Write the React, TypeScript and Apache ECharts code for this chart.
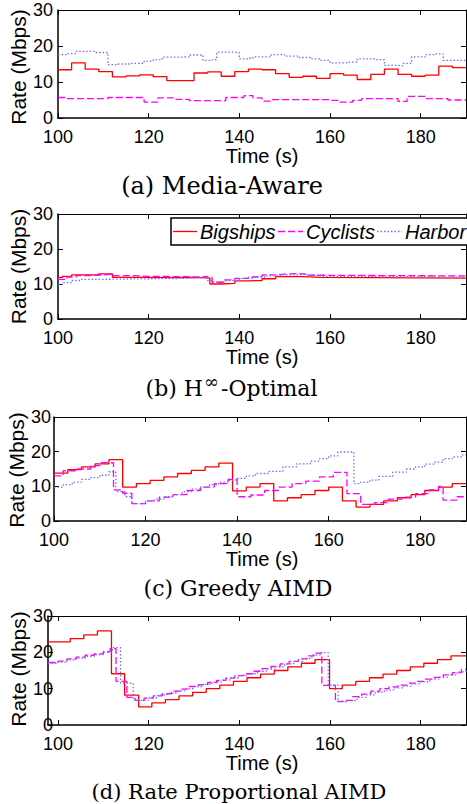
import React, { useEffect, useRef } from "react";
import * as echarts from "echarts";

type P = [number, number][];

// x tick labels and y range
const X_TICKS = [100, 120, 140, 160, 180];
const Y_MIN = 0;
const Y_MAX = 30;
const X_MAX = 190;
const X_MINS = [100, 100, 100, 97.8];

const CAPTIONS = ["(a) Media-Aware", "(b) H", "(c) Greedy AIMD", "(d) Rate Proportional AIMD"];
const LEGEND_NAMES = ["Bigships", "Cyclists", "Harbor"];

// (a) Media-Aware
const aBigships: P = [[100,13.4],[103,15.3],[106,13.6],[109,12.9],[112,11.4],[115,11.7],[118,12.0],[121,11.5],[124,10.4],[127,10.4],[130,12.5],[133,12.8],[136,11.6],[139,12.9],[142,13.6],[145,13.4],[148,12.3],[151,11.3],[154,11.6],[157,11.0],[160,12.3],[163,11.9],[166,10.7],[169,12.1],[172,13.6],[175,12.1],[178,11.6],[181,11.9],[184,14.4],[187,14.0],[190,14.0]];
const aCyclists: P = [[100,5.7],[102,5.4],[111,5.7],[119,4.4],[122,5.6],[126,5.2],[129,4.8],[137,5.7],[141,6.2],[143,5.6],[145,4.7],[147,5.1],[160,4.9],[162,4.4],[165,4.9],[167,5.4],[175,4.6],[177,6.0],[181,5.4],[186,5.0],[190,5.0]];
const aHarbor: P = [[100,17.6],[102,17.9],[104,18.5],[108,18.2],[111,14.8],[113,15.0],[116,15.2],[119,15.8],[121,16.2],[123,16.9],[127,17.0],[129,17.5],[132,16.0],[134,16.2],[135,18.3],[139,18.2],[140,16.4],[142,16.6],[143,17.0],[147,17.6],[150,17.2],[153,16.8],[156,16.4],[158,16.0],[160,15.3],[164,15.5],[166,16.4],[170,16.2],[172,14.6],[175,14.5],[176,15.2],[178,17.0],[181,17.6],[183,17.8],[185,16.0],[190,16.0]];

// (b) H-infinity optimal
const bBigships: P = [[100,11.9],[101,12.2],[103,12.6],[109,12.9],[112,11.9],[118,11.8],[124,11.9],[130,11.7],[133.5,10.0],[136,10.2],[139,10.9],[142,11.0],[145,11.5],[148,12.1],[154,11.9],[158,11.7],[190,11.7]];
const bCyclists: P = [[100,11.3],[102,12.0],[104,12.4],[107,12.6],[110,12.8],[112,12.4],[116,12.2],[120,12.1],[128,12.0],[131,12.2],[133,11.8],[134,10.5],[136.5,11.2],[139,11.6],[142,12.0],[145,12.6],[148,12.8],[150,13.0],[153,12.8],[155,12.5],[158,12.3],[190,12.3]];
const bHarbor: P = [[100,9.9],[101,10.4],[103,11.0],[105,11.3],[108,11.5],[120,11.6],[128,11.8],[131,12.0],[133,11.0],[134,10.6],[137,11.0],[140,11.6],[143,12.0],[146,12.3],[149,12.6],[152,12.8],[155,12.5],[158,12.2],[165,12.0],[190,12.0]];

// (c) Greedy AIMD
const cBigships: P = [[100,13.8],[103,14.8],[106,15.6],[109,16.5],[112,17.7],[115,9.8],[118,10.8],[121,11.7],[124,12.7],[127,13.7],[130,14.6],[133,15.6],[136,16.7],[139,8.7],[142,9.8],[145,10.8],[148,5.8],[151,6.7],[154,7.6],[157,8.8],[160,9.8],[163,5.8],[166,4.0],[169,4.8],[172,5.8],[175,6.7],[178,7.6],[181,8.8],[184,9.8],[187,10.8],[190,10.8]];
const cCyclists: P = [[100,13.0],[102,14.5],[105,15.0],[108,16.0],[110,16.8],[113,9.0],[115,8.0],[117,5.0],[120,5.8],[123,6.9],[126,7.6],[129,8.8],[132,9.8],[135,10.8],[138,12.0],[140,7.0],[143,7.5],[146,8.8],[149,9.8],[152,10.8],[155,11.5],[158,12.7],[161,14.0],[164,7.9],[167,4.8],[170,5.3],[173,6.3],[176,6.9],[179,7.9],[182,9.0],[184,10.0],[185,6.0],[188,7.0],[190,7.0]];
const cHarbor: P = [[100,9.8],[102,10.5],[104,11.2],[106,12.0],[108,12.5],[110,13.2],[112,14.2],[113.5,8.5],[115.5,7.0],[117,5.0],[120,5.8],[122,6.3],[124,7.0],[126,7.6],[128,8.5],[130,9.2],[132,9.8],[134,10.5],[136,11.2],[138,11.7],[140,12.3],[142,13.0],[144,13.7],[147,14.3],[150,15.6],[153,16.5],[156,17.3],[158,18.0],[160,18.8],[162,19.9],[165.5,10.8],[167,11.2],[169,11.8],[171,12.9],[174,14.1],[177,15.0],[179,15.6],[181,16.4],[183,17.0],[185,18.0],[187,18.5],[189,19.1],[190,19.1]];

// (d) Rate Proportional AIMD
const dBigships: P = [[97.8,22.9],[102.7,23.8],[105.7,24.8],[108.7,25.9],[111.8,14.1],[114.7,8.2],[117.8,5.0],[120.7,6.1],[123.7,7.0],[126.7,8.0],[129.7,9.0],[132.7,10.0],[135.7,11.0],[138.7,12.0],[141.7,13.0],[144.7,14.0],[147.7,15.0],[150.7,16.0],[153.7,17.0],[156.7,18.0],[159.9,10.0],[162.7,11.0],[165.7,12.0],[168.7,13.0],[171.7,14.0],[174.7,15.0],[177.7,16.0],[180.7,17.0],[183.7,18.0],[186.7,19.0],[190,19.0]];
const dCyclists: P = [[97.8,17.2],[100,17.6],[102,18.2],[104,18.7],[106,19.2],[108,19.6],[110,20.2],[111.5,21.0],[112.8,12.0],[115.2,7.6],[117,6.8],[119,7.4],[121,8.0],[123,8.6],[125,9.3],[127,9.9],[129,10.6],[131,11.1],[133,11.7],[135,12.3],[137,12.9],[139,13.6],[141,14.1],[143,14.8],[145,15.5],[147,16.1],[149,16.8],[151,17.5],[153,18.2],[155,19.0],[156.5,19.8],[158.2,10.9],[161.2,6.5],[163,6.8],[165,7.8],[167,8.5],[169,9.3],[171,10.0],[173,10.5],[175,11.0],[177,11.5],[179,12.0],[181,12.6],[183,13.1],[185,13.8],[187,14.4],[189,15.3],[190,15.3]];
const dHarbor: P = [[97.8,17.0],[100,17.3],[102,17.9],[104,18.4],[106,18.9],[108,19.4],[110,20.0],[112,21.3],[113.8,11.5],[116.6,7.0],[118,6.8],[120,7.5],[122,8.2],[124,8.7],[126,9.4],[128,10.0],[130,10.6],[132,11.2],[134,11.8],[136,12.4],[138,13.0],[140,13.6],[142,14.1],[144,14.8],[146,15.4],[148,16.0],[150,16.8],[152,17.5],[154,18.3],[156,19.3],[158,19.9],[159.6,11.0],[161.8,6.4],[164,6.7],[166,7.6],[168,8.3],[170,9.0],[172,9.6],[174,10.2],[176,10.7],[178,11.3],[180,11.9],[182,12.6],[184,13.2],[186,13.8],[188,14.6],[190,15.0]];

const PANELS: P[][] = [
  [aBigships, aCyclists, aHarbor],
  [bBigships, bCyclists, bHarbor],
  [cBigships, cCyclists, cHarbor],
  [dBigships, dCyclists, dHarbor],
];

const GRIDS = [
  { left: 58, top: 10, width: 408, height: 108 },
  { left: 58, top: 214, width: 408, height: 105 },
  { left: 54, top: 417, width: 412, height: 104 },
  { left: 48, top: 616, width: 418, height: 109 },
];
const Y_LABEL_MARGIN = [5, 5, 3, -5];

const COLORS = ["#ff0000", "#ff00ff", "#6f6fff"];
const DASHES: any[] = ["solid", [7, 3], [1.5, 2]];
const WIDTHS = [1.3, 1.3, 1.3];

const SANS = "'Liberation Sans', Arial, sans-serif";
const SERIF = "'DejaVu Serif', serif";

export default function App() {
  const ref = useRef<HTMLDivElement>(null);
  useEffect(() => {
    if (!ref.current) return;
    const chart = echarts.init(ref.current, undefined, { renderer: "svg" });

    const xAxis: any[] = [];
    const yAxis: any[] = [];
    const series: any[] = [];
    const graphic: any[] = [];

    GRIDS.forEach((g, i) => {
      const xmin = X_MINS[i];
      xAxis.push({
        type: "value", gridIndex: i, position: "bottom", min: xmin, max: X_MAX,
        axisLine: { show: true, onZero: false, lineStyle: { color: "#000", width: 1.5 } },
        axisTick: { show: true, inside: true, length: 5, customValues: X_TICKS, lineStyle: { color: "#000" } },
        axisLabel: { customValues: X_TICKS, color: "#000", fontFamily: SANS, fontSize: 18, margin: 10 },
        splitLine: { show: false },
      });
      xAxis.push({
        type: "value", gridIndex: i, position: "top", min: xmin, max: X_MAX,
        axisLine: { show: true, onZero: false, lineStyle: { color: "#000", width: 1 } },
        axisTick: { show: true, inside: true, length: 5, customValues: X_TICKS, lineStyle: { color: "#000" } },
        axisLabel: { show: false },
        splitLine: { show: false },
      });
      yAxis.push({
        type: "value", gridIndex: i, position: "left", min: Y_MIN, max: Y_MAX, interval: 10,
        axisLine: { show: true, onZero: false, lineStyle: { color: "#000", width: 1.5 } },
        axisTick: { show: true, inside: true, length: 5, lineStyle: { color: "#000" } },
        axisLabel: { color: "#000", fontFamily: SANS, fontSize: 18, margin: Y_LABEL_MARGIN[i] },
        splitLine: { show: false },
      });
      yAxis.push({
        type: "value", gridIndex: i, position: "right", min: Y_MIN, max: Y_MAX, interval: 10,
        axisLine: { show: true, onZero: false, lineStyle: { color: "#000", width: 1 } },
        axisTick: { show: true, inside: true, length: 5, lineStyle: { color: "#000" } },
        axisLabel: { show: false },
        splitLine: { show: false },
      });
      PANELS[i].forEach((data, k) => {
        series.push({
          type: "line", name: LEGEND_NAMES[k], xAxisIndex: 2 * i, yAxisIndex: 2 * i,
          data, step: "end", showSymbol: false, symbol: "none",
          lineStyle: { color: COLORS[k], width: WIDTHS[k], type: DASHES[k] },
          z: 2 + k,
        });
      });
      graphic.push({
        type: "text", x: 262, y: g.top + g.height + 38,
        style: { text: "Time (s)", fontFamily: SANS, fontSize: 20, fill: "#000", align: "center", verticalAlign: "middle" },
      });
    });

    const rateY = [67, 266.5, 470, 669];
    const rateX = [18, 18, 16, 18];
    rateY.forEach((y, i) => {
      graphic.push({
        type: "text", x: rateX[i], y, rotation: Math.PI / 2,
        style: { text: "Rate (Mbps)", fontFamily: SANS, fontSize: 21, fill: "#000", align: "center", verticalAlign: "middle" },
      });
    });

    // captions
    graphic.push({ type: "text", x: 222, y: 186, style: { text: CAPTIONS[0], fontFamily: SERIF, fontSize: 24, fill: "#000", align: "center", verticalAlign: "middle" } });
    graphic.push({ type: "text", x: 203, y: 388, style: { text: CAPTIONS[1], fontFamily: SERIF, fontSize: 22, fill: "#000", align: "right", verticalAlign: "middle" } });
    graphic.push({ type: "text", x: 204, y: 381, style: { text: "∞", fontFamily: SERIF, fontSize: 18, fill: "#000", align: "left", verticalAlign: "middle" } });
    graphic.push({ type: "text", x: 221, y: 388, style: { text: "-Optimal", fontFamily: SERIF, fontSize: 22, fill: "#000", align: "left", verticalAlign: "middle" } });
    graphic.push({ type: "text", x: 238, y: 588, style: { text: CAPTIONS[2], fontFamily: SERIF, fontSize: 22, fill: "#000", align: "center", verticalAlign: "middle" } });
    graphic.push({ type: "text", x: 239, y: 792, style: { text: CAPTIONS[3], fontFamily: SERIF, fontSize: 21, fill: "#000", align: "center", verticalAlign: "middle" } });

    // legend in panel (b)
    const ly = 231.5;
    graphic.push({ type: "rect", z: 50, shape: { x: 171, y: 218, width: 320, height: 27 }, style: { fill: "#fff", stroke: "#000", lineWidth: 1.5 } });
    const legX = [[173, 197, 200], [278, 303, 306], [377, 402, 405]];
    legX.forEach((p, k) => {
      graphic.push({ type: "line", z: 51, shape: { x1: p[0], y1: ly, x2: p[1], y2: ly }, style: { stroke: COLORS[k], lineWidth: 1.3, lineDash: k === 0 ? null : DASHES[k] } });
      graphic.push({ type: "text", z: 51, x: p[2], y: ly, style: { text: LEGEND_NAMES[k], fontFamily: SANS, fontStyle: "italic", fontSize: 20, fill: "#000", align: "left", verticalAlign: "middle" } });
    });

    chart.setOption({
      animation: false,
      backgroundColor: "#fff",
      grid: GRIDS.map((g) => ({ ...g, containLabel: false })),
      xAxis, yAxis, series, graphic,
    });
    return () => chart.dispose();
  }, []);
  return <div ref={ref} style={{ position: "fixed", left: 0, top: 0, width: 467, height: 804, background: "#fff" }} />;
}
